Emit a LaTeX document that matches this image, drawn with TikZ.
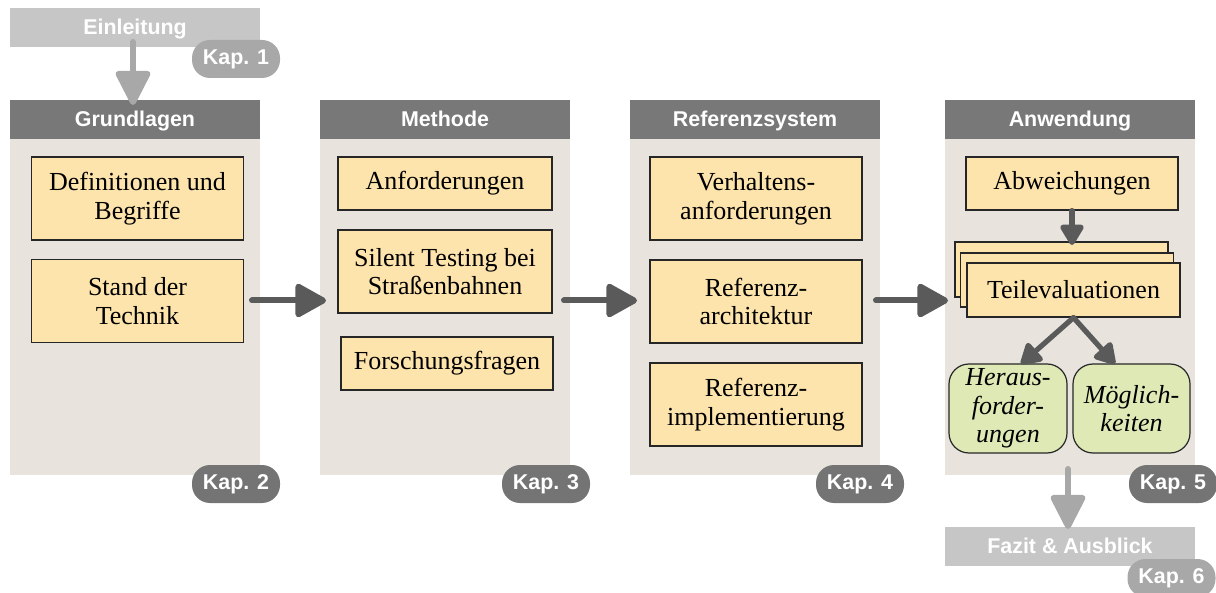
\documentclass[tikz,border=0pt]{standalone}
\usepackage{fontspec}
\setmainfont{Liberation Serif}
\setsansfont{Liberation Sans}
\usetikzlibrary{arrows.meta}
\definecolor{hdrc}{HTML}{787878}
\definecolor{pillc}{HTML}{747474}
\definecolor{lbarc}{HTML}{C6C6C6}
\definecolor{lpillc}{HTML}{A8A8A8}
\definecolor{bodyc}{HTML}{E8E4DD}
\definecolor{boxc}{HTML}{FDE3AC}
\definecolor{greenc}{HTML}{DEE9B6}
\definecolor{darrc}{HTML}{5A5A5A}
\definecolor{larrc}{HTML}{A8A8A8}
\begin{document}
\begin{tikzpicture}[x=0.5pt,y=-0.5pt,
  hdr/.style={fill=hdrc, text=white, font=\sffamily\bfseries\fontsize{10.7}{12}\selectfont, minimum width=125pt, minimum height=19.5pt, inner sep=0pt, text depth=0.5pt},
  lbar/.style={fill=lbarc, text=white, font=\sffamily\bfseries\fontsize{10.7}{12}\selectfont, minimum width=125pt, minimum height=19.5pt, inner sep=0pt, text depth=0.5pt},
  colbody/.style={fill=bodyc, minimum width=125pt, minimum height=168pt, inner sep=0pt},
  pill/.style={fill=pillc, text=white, rounded corners=9pt, font=\sffamily\bfseries\fontsize{10.7}{12}\selectfont, minimum width=44pt, minimum height=19pt, inner sep=0pt},
  lpill/.style={pill, fill=lpillc},
  box/.style={draw=black!85, line width=0.6pt, fill=boxc, font=\fontsize{13}{14.3}\selectfont, align=center, inner sep=0pt, minimum width=106pt},
  gbox/.style={draw=black!85, line width=0.6pt, fill=greenc, rounded corners=10pt, font=\itshape\fontsize{13}{14.3}\selectfont, align=center, inner sep=0pt, minimum height=44.5pt},
  bigarr/.style={line width=3pt, darrc, line cap=round, -{Triangle[round,length=17pt,width=18pt]}},
  larr/.style={line width=3pt, larrc, line cap=round, -{Triangle[round,length=19pt,width=18.5pt]}},
  smarr/.style={line width=2.6pt, darrc, line cap=round, -{Triangle[round,length=11.5pt,width=13pt]}}
]
\useasboundingbox (0,0) rectangle (1216,593);
% top bar
\node[lbar] (einl) at (135,27.5) {Einleitung};
% columns
\node[colbody] (b1) at (135,307) {};
\node[colbody] (b2) at (445,307) {};
\node[colbody] (b3) at (755,307) {};
\node[colbody] (b4) at (1070,307) {};
\node[hdr] (h1) at (135,119.5) {Grundlagen};
\node[hdr] (h2) at (445,119.5) {Methode};
\node[hdr] (h3) at (755,119.5) {Referenzsystem};
\node[hdr] (h4) at (1070,119.5) {Anwendung};
% bottom bar
\node[lbar] (fazit) at (1070,546) {Fazit \& Ausblick};
% arrows top/bottom
\coordinate (e1) at (133,42);
\coordinate (e2) at (133,105);
\draw[larr] (e1) -- (e2);
\coordinate (f1) at (1068,469);
\coordinate (f2) at (1068,529);
\draw[larr] (f1) -- (f2);
% pills
\node[lpill] (k1) at (236,59) {Kap. 1};
\node[pill] (k2) at (236,484) {Kap. 2};
\node[pill] (k3) at (546,484) {Kap. 3};
\node[pill] (k4) at (860,484) {Kap. 4};
\node[pill] (k5) at (1173,484) {Kap. 5};
\node[lpill] (k6) at (1171.5,578) {Kap. 6};
% column 1
\node[box, minimum height=41.5pt] (def) at (137.5,198.5) {Definitionen und\\Begriffe};
\node[box, minimum height=41.5pt] (sdt) at (137.5,301) {Stand der\\Technik};
% column 2
\node[box, minimum width=107pt, minimum height=26.5pt] (anf) at (445,183.5) {Anforderungen};
\node[box, minimum width=107pt, minimum height=41.5pt] (sil) at (445,271.5) {Silent Testing bei\\Straßenbahnen};
\node[box, minimum height=26.5pt] (ffr) at (447,363.5) {Forschungsfragen};
% column 3
\node[box, minimum height=41.5pt] (vha) at (756,198.5) {Verhaltens-\\anforderungen};
\node[box, minimum height=41.5pt] (rar) at (756,301.5) {Referenz-\\architektur};
\node[box, minimum height=41.5pt] (rim) at (756,404.5) {Referenz-\\implementierung};
% column 4
\node[box, minimum height=26.5pt] (abw) at (1072,183.5) {Abweichungen};
\node[box, minimum width=106.5pt, minimum height=27.5pt] (tev3) at (1061.5,269.5) {};
\node[box, minimum width=106.5pt, minimum height=27pt] (tev2) at (1067,280) {};
\node[box, minimum width=106.5pt, minimum height=27pt] (tev) at (1073.5,290) {Teilevaluationen};
\node[gbox, minimum width=59pt] (her) at (1008,408.5) {Heraus-\\forder-\\ungen};
\node[gbox, minimum width=58.5pt] (moe) at (1131.5,408.5) {Möglich-\\keiten};
\coordinate (tevin) at (1072,245);
\draw[smarr] (abw.south) -- (tevin);
\coordinate (herin) at (1021,364);
\coordinate (moein) at (1115,364);
\draw[smarr] (tev.south) -- (herin);
\draw[smarr] (tev.south) -- (moein);
% horizontal arrows
\coordinate (a1s) at (252,300.5);
\coordinate (a1e) at (326,300.5);
\draw[bigarr] (a1s) -- (a1e);
\coordinate (a2s) at (564,300.5);
\coordinate (a2e) at (637,300.5);
\draw[bigarr] (a2s) -- (a2e);
\coordinate (a3s) at (876,300.5);
\coordinate (a3e) at (948,300.5);
\draw[bigarr] (a3s) -- (a3e);
\end{tikzpicture}
\end{document}
